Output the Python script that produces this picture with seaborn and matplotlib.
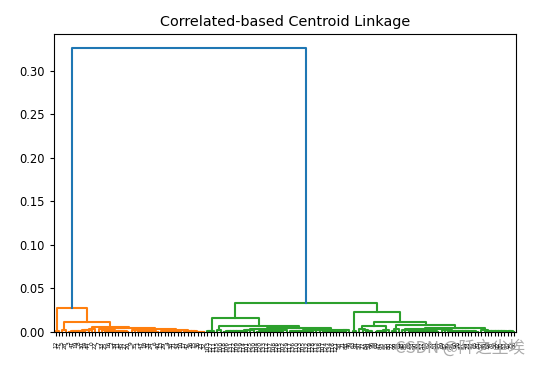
import matplotlib
matplotlib.use('Agg')
import matplotlib.pyplot as plt
import pandas as pd
import seaborn as sns

# leaf labels of the small low-level groups, in leaf order (left to right)
A = [12, 37]
B1 = [5, 28]
P1 = [3, 41, 19, 8, 30, 14, 44, 0, 22]
P2 = [7, 33, 25, 16, 2, 39, 11, 45, 27, 20]
P3 = [9, 35, 1, 43, 18, 31, 24, 6, 40]
P4 = [13, 29, 4, 38, 21, 34, 10]
P5 = [17, 42, 26, 15, 36, 23, 32]
G1a = [103, 127, 111]
Q1 = [135, 100]
R1 = [118, 106, 131, 122, 109, 139, 114, 101, 125, 130]
R2 = [104, 120, 133, 112, 137, 108, 126, 115, 102, 129]
R3 = [117, 136, 110, 123, 105, 132, 119, 128, 113, 138]
R4 = [107, 124, 134, 116, 121, 58, 71, 88, 46]
G2a = [63, 91]
S1 = [50, 77, 84, 59, 96]
S2 = [68, 47, 93, 55, 80]
T1 = [72, 99, 61]
U1 = [48, 85, 66, 53, 90, 74, 57, 97, 62, 79, 51, 94]
U2 = [69, 82, 49, 95, 60, 76, 87, 54, 73, 98, 65, 81]
U3 = [52, 89, 64, 78, 56, 92, 70, 83, 67, 75, 86]

# merge heights inside each group (each new leaf joins the group in turn)
A_h = [0.0012]
B1_h = [0.0022]
P1_h = [0.0005, 0.0011, 0.0008, 0.0016, 0.0013, 0.0024, 0.0019, 0.0040]
P2_h = [0.0004, 0.0009, 0.0007, 0.0014, 0.0010, 0.0018, 0.0015, 0.0022, 0.0031]
P3_h = [0.0003, 0.0008, 0.0006, 0.0012, 0.0009, 0.0015, 0.0019, 0.0026]
P4_h = [0.0003, 0.0007, 0.0005, 0.0010, 0.0012, 0.0016]
P5_h = [0.0002, 0.0005, 0.0004, 0.0007, 0.0009, 0.0012]
G1a_h = [0.0008, 0.0015]
Q1_h = [0.0024]
R1_h = [0.0005, 0.0010, 0.0008, 0.0014, 0.0011, 0.0017, 0.0013, 0.0021, 0.0027]
R2_h = [0.0004, 0.0009, 0.0006, 0.0012, 0.0016, 0.0010, 0.0019, 0.0015, 0.0024]
R3_h = [0.0006, 0.0011, 0.0008, 0.0015, 0.0012, 0.0018, 0.0014, 0.0020, 0.0023]
R4_h = [0.0003, 0.0008, 0.0005, 0.0011, 0.0009, 0.0014, 0.0017, 0.0021]
G2a_h = [0.0006]
S1_h = [0.0007, 0.0013, 0.0018, 0.0029]
S2_h = [0.0005, 0.0011, 0.0016, 0.0025]
T1_h = [0.0012, 0.0038]
U1_h = [0.0004, 0.0009, 0.0006, 0.0013, 0.0010, 0.0016, 0.0012, 0.0019, 0.0015, 0.0022, 0.0028]
U2_h = [0.0003, 0.0008, 0.0005, 0.0011, 0.0009, 0.0014, 0.0010, 0.0017, 0.0013, 0.0020, 0.0025]
U3_h = [0.0002, 0.0006, 0.0004, 0.0009, 0.0007, 0.0011, 0.0008, 0.0013, 0.0016, 0.0019]


def chain(labels, heights):
    # leaves join one by one from the left
    tree = labels[0]
    for lab, h in zip(labels[1:], heights):
        tree = (h, tree, lab)
    return tree


def rchain(labels, heights):
    # leaves join one by one from the right
    tree = labels[-1]
    for lab, h in zip(labels[-2::-1], heights):
        tree = (h, lab, tree)
    return tree


def node(h, left, right):
    return (h, left, right)


# upper part of the tree
orange = node(0.0280, chain(A, A_h),
              node(0.0118, chain(B1, B1_h),
                   node(0.0058, chain(P1, P1_h),
                        node(0.0046, rchain(P2, P2_h),
                             node(0.0035, rchain(P3, P3_h),
                                  node(0.0022, rchain(P4, P4_h), rchain(P5, P5_h)))))))
green = node(0.0336,
             node(0.0160, chain(G1a, G1a_h),
                  node(0.0069, chain(Q1, Q1_h),
                       node(0.0042,
                            node(0.0030, chain(R1, R1_h), chain(R2, R2_h)),
                            node(0.0027, chain(R3, R3_h), chain(R4, R4_h))))),
             node(0.0225, chain(G2a, G2a_h),
                  node(0.0115,
                       node(0.0069, rchain(S1, S1_h), chain(S2, S2_h)),
                       node(0.0084, chain(T1, T1_h),
                            node(0.0050,
                                 node(0.0036, rchain(U1, U1_h), rchain(U2, U2_h)),
                                 rchain(U3, U3_h))))))
root_h = 0.326

rows = []
leaves = []


def walk(t, color):
    if isinstance(t, int):
        x = 5 + 10 * len(leaves)
        leaves.append(t)
        return x, 0.0
    h, left, right = t
    xl, hl = walk(left, color)
    xr, hr = walk(right, color)
    k = len(rows) // 4
    for xx, yy in zip([xl, xl, xr, xr], [hl, h, h, hr]):
        rows.append({'x': xx, 'y': yy, 'link': k, 'color': color})
    return (xl + xr) / 2, h


xo, ho = walk(orange, 'C1')
xg, hg = walk(green, 'C2')
k = len(rows) // 4
for xx, yy in zip([xo, xo, xg, xg], [ho, root_h, root_h, hg]):
    rows.append({'x': xx, 'y': yy, 'link': k, 'color': 'C0'})
df = pd.DataFrame(rows)

n = len(leaves)
fig = plt.figure(figsize=(5.4, 3.67), dpi=100)
ax = fig.add_axes([0.1, 0.0954, 0.8556, 0.812])
sns.lineplot(data=df, x='x', y='y', units='link', hue='color',
             palette={'C0': '#1f77b4', 'C1': '#ff7f0e', 'C2': '#2ca02c'},
             estimator=None, sort=False, legend=False, linewidth=1.5, ax=ax)
ax.set_xlim(0, 10 * n)
ax.set_ylim(0, root_h * 1.05)
ax.set_xticks([5 + 10 * i for i in range(n)])
ax.set_xticklabels([str(v) for v in leaves], rotation=90, fontsize=4.2)
ax.tick_params(axis='y', labelsize=8.3, length=3)
ax.tick_params(axis='x', length=3)
ax.set_xlabel('')
ax.set_ylabel('')
ax.set_title('Correlated-based Centroid Linkage', fontsize=10.4, pad=6)

fig.text(0.972, 0.052, 'CSDN @阡之尘埃', ha='right', va='center', fontsize=12,
         color='#ababab', family=['Noto Sans CJK SC', 'DejaVu Sans'])

fig.savefig('out.png', dpi=100)
